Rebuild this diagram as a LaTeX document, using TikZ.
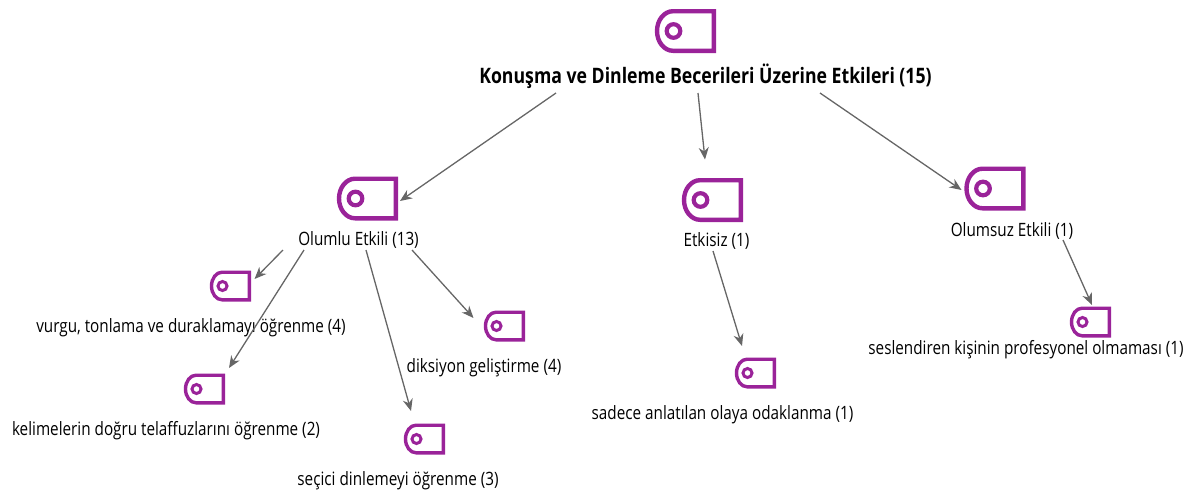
\documentclass[tikz,border=0pt]{standalone}
\usepackage{fontspec}
\setmainfont[FakeStretch=0.83]{Open Sans}
\usetikzlibrary{arrows.meta}
\definecolor{tagpurple}{HTML}{9A2399}
\definecolor{linkgrey}{HTML}{666666}
\tikzset{
  x=1pt,y=-1pt,
  lab/.style={font=\fontsize{18.4}{21}\selectfont,text=black,inner sep=0pt,anchor=center},
  rootlab/.style={font=\fontsize{21.3}{24}\selectfont\bfseries,text=black,inner sep=0pt,anchor=center},
  conn/.style={draw=linkgrey,line width=1.3pt,-{Stealth[length=12pt,width=10pt]}},
  bigicon/.style={minimum width=61pt,minimum height=44pt,inner sep=0pt,outer sep=0pt},
  smallicon/.style={minimum width=41pt,minimum height=31pt,inner sep=0pt,outer sep=0pt},
}
% #1 node name
\newcommand{\bigtag}[1]{%
  \draw[tagpurple,line width=4.4pt,line join=miter]
    ([shift={(-2.2,2.2)}]#1.north east) -- ([shift={(-2.2,-2.2)}]#1.south east)
    -- ([shift={(18,-2.2)}]#1.south west) arc[start angle=270,end angle=90,x radius=16,y radius=-19.8]
    -- cycle;
  \draw[tagpurple,line width=4.2pt] ([shift={(18.5,0)}]#1.west) circle[radius=6.8];
}
\newcommand{\smalltag}[1]{%
  \draw[tagpurple,line width=3.4pt,line join=miter]
    ([shift={(-1.7,1.7)}]#1.north east) -- ([shift={(-1.7,-1.7)}]#1.south east)
    -- ([shift={(12,-1.7)}]#1.south west) arc[start angle=270,end angle=90,x radius=10.5,y radius=-13.8]
    -- cycle;
  \draw[tagpurple,line width=3pt] ([shift={(12.5,0)}]#1.west) circle[radius=4.5];
}
\begin{document}
\begin{tikzpicture}
\useasboundingbox (0,0) rectangle (1186,493);
\node[bigicon] (iroot) at (685.5,31) {};
\node[bigicon] (ipos) at (367.5,198.5) {};
\node[bigicon] (inone) at (712.5,200) {};
\node[bigicon] (ineg) at (995,188.5) {};
\node[smallicon] (ivurgu) at (230.5,286) {};
\node[smallicon] (idik) at (504.5,326) {};
\node[smallicon] (ikel) at (204.5,389) {};
\node[smallicon] (isec) at (424.5,439) {};
\node[smallicon] (isad) at (755.5,373) {};
\node[smallicon] (ises) at (1090.5,322) {};
\bigtag{iroot}\bigtag{ipos}\bigtag{inone}\bigtag{ineg}
\smalltag{ivurgu}\smalltag{idik}\smalltag{ikel}\smalltag{isec}\smalltag{isad}\smalltag{ises}
\node[rootlab] (root) at (705.5,76.5) {Konuşma ve Dinleme Becerileri Üzerine Etkileri (15)};
\node[lab] (pos) at (358.5,240) {Olumlu Etkili (13)};
\node[lab] (none) at (716.5,241) {Etkisiz (1)};
\node[lab] (neg) at (1012,231) {Olumsuz Etkili (1)};
\node[lab] (vurgu) at (191,327.5) {vurgu, tonlama ve duraklamayı öğrenme (4)};
\node[lab] (dik) at (484,367.5) {diksiyon geliştirme (4)};
\node[lab] (kel) at (166,430.5) {kelimelerin doğru telaffuzlarını öğrenme (2)};
\node[lab] (sec) at (398,480.5) {seçici dinlemeyi öğrenme (3)};
\node[lab] (sad) at (722.5,414.5) {sadece anlatılan olaya odaklanma (1)};
\node[lab] (ses) at (1026,349.5) {seslendiren kişinin profesyonel olmaması (1)};
\draw[conn] ([shift={(-149.5,16.5)}]root.center) -- ([shift={(2,2.5)}]ipos.east);
\draw[conn] ([shift={(-7.5,16.5)}]root.center) -- ([shift={(-7.5,-18.5)}]inone.north);
\draw[conn] ([shift={(114.5,16.5)}]root.center) -- ([shift={(-3,1.5)}]ineg.west);
\draw[conn] ([shift={(-75.5,10)}]pos.center) -- ([shift={(3.5,-7)}]ivurgu.east);
\draw[conn] ([shift={(-54.5,10)}]pos.center) -- ([shift={(24.5,-5.5)}]ikel.north);
\draw[conn] ([shift={(7.5,10)}]pos.center) -- ([shift={(-13.5,-12.5)}]isec.north);
\draw[conn] ([shift={(53.5,10)}]pos.center) -- ([shift={(-10.5,7.5)}]idik.north west);
\draw[conn] ([shift={(-3.5,10)}]none.center) -- ([shift={(-13.5,-11.5)}]isad.north);
\draw[conn] ([shift={(51,9)}]neg.center) -- ([shift={(1.5,-1.5)}]ises.north);
\end{tikzpicture}
\end{document}
